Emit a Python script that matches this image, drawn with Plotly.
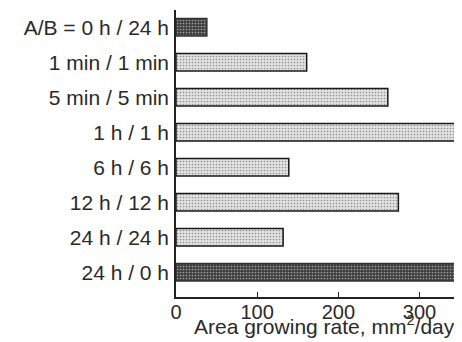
import plotly.graph_objects as go

categories = ["A/B = 0 h / 24 h", "1 min / 1 min", "5 min / 5 min", "1 h / 1 h",
              "6 h / 6 h", "12 h / 12 h", "24 h / 24 h", "24 h / 0 h"]
values = [38, 161, 261, 344, 139, 274, 132, 344]
dark = [True, False, False, False, False, False, False, True]
x_ticks = [0, 100, 200, 300]
x_title = "Area growing rate, mm<sup>2</sup>/day"

colors = ["#404040" if d else "#e2e2e2" for d in dark]
line_colors = ["#333333" if d else "#1a1a1a" for d in dark]
pat_fg = ["#777777" if d else "#bdbdbd" for d in dark]

fig = go.Figure(go.Bar(
    x=values, y=categories, orientation="h", width=0.5,
    marker=dict(color=colors, line=dict(color=line_colors, width=1.5),
                pattern=dict(shape=".", fgcolor=pat_fg, size=3, solidity=0.25)),
))

font = dict(family="Liberation Sans, Arial, sans-serif", size=21, color="#2a2a2a")
# page body has an 8px margin, so the figure is drawn offset by (8, 8)
fig.update_layout(
    width=454, height=334, margin=dict(l=167.5, r=6, t=2, b=45),
    plot_bgcolor="white", paper_bgcolor="white", showlegend=False, font=font,
)
fig.update_xaxes(range=[0, 345], tickvals=x_ticks, ticks="inside", ticklen=5,
                 tickcolor="#222", showline=True, linecolor="#222", linewidth=1.5,
                 showgrid=False, zeroline=False, automargin=False,
                 tickfont=dict(size=20), ticklabelstandoff=-4)
fig.update_yaxes(categoryorder="array", categoryarray=categories,
                 range=[7.71, -0.49], showline=True, linecolor="#222", linewidth=1.5,
                 ticks="", showgrid=False, zeroline=False, automargin=False,
                 ticklabelstandoff=1)
fig.add_annotation(text=x_title, xref="paper", yref="paper", x=1.0, y=0,
                   xanchor="right", yanchor="top", yshift=-14, showarrow=False,
                   borderpad=0, font=dict(size=21, color="#2a2a2a"))
fig.write_html("out.html")
